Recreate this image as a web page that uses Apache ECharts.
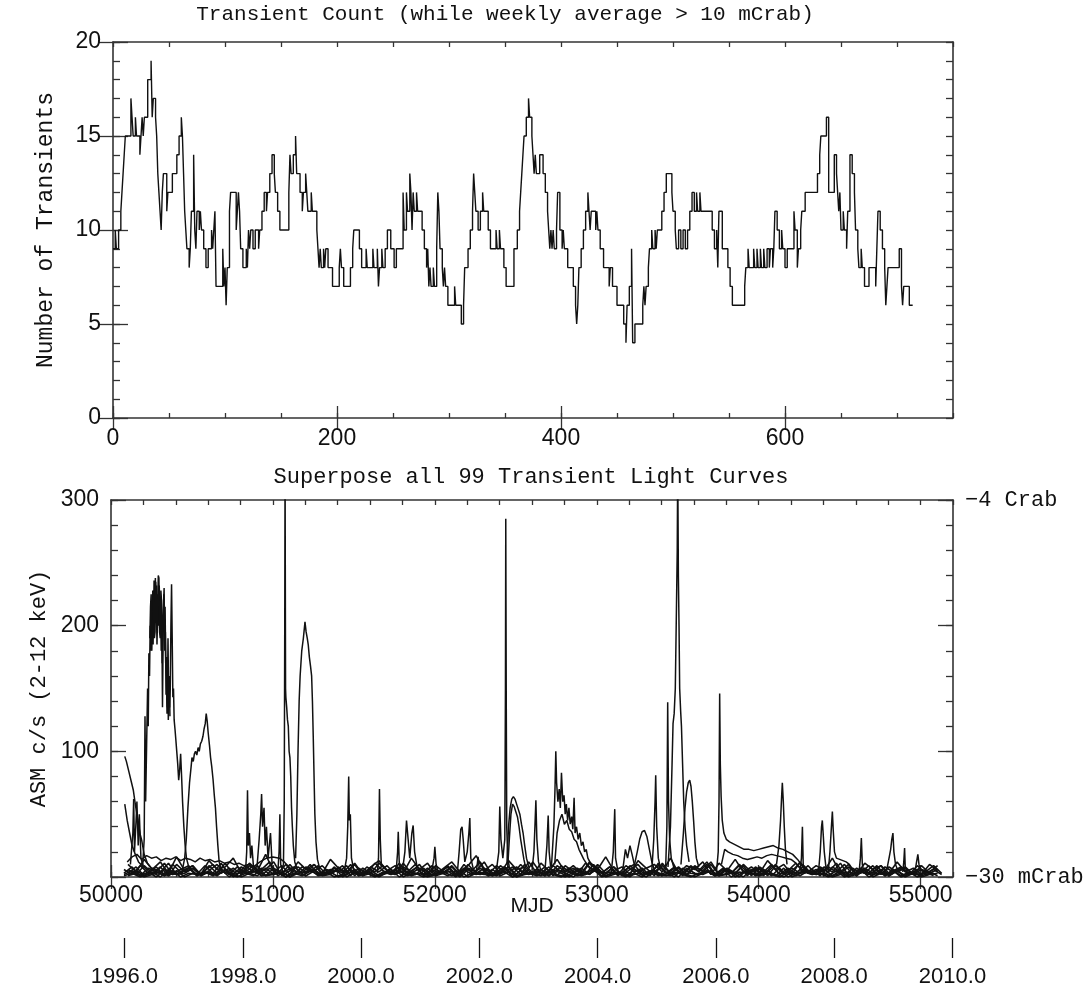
<!DOCTYPE html>
<html>
<head>
<meta charset="utf-8">
<script src="https://cdn.jsdelivr.net/npm/echarts@6/dist/echarts.min.js"></script>
<style>
html,body{margin:0;padding:0;background:#fff;}
#chart{width:1091px;height:995px;}
</style>
</head>
<body>
<div id="chart"></div>
<script>
// ---------------- DATA ----------------
// Top panel: transient count, step change points [index, count]
const topCountSteps = [[0,9],[2,10],[3,9],[5,10],[7,11],[8,12],[9,13],[10,14],[11,15],[16,17],[17,16],[18,15],[20,16],[21,15],[24,14],[25,15],[26,16],[27,15],[28,16],[31,18],[34,19],[35,16],[36,17],[38,16],[39,15],[40,13],[41,12],[42,11],[43,10],[44,12],[45,13],[48,11],[49,12],[53,13],[57,14],[59,15],[61,16],[62,15],[63,13],[64,11],[65,10],[66,9],[68,8],[69,9],[70,11],[72,14],[73,10],[74,9],[75,11],[77,10],[78,11],[79,10],[81,9],[83,8],[85,9],[88,10],[89,9],[90,10],[91,11],[92,7],[98,9],[99,7],[100,8],[101,6],[102,8],[104,11],[105,12],[110,10],[111,11],[112,12],[113,11],[114,9],[116,8],[119,9],[120,8],[121,10],[122,9],[123,10],[125,9],[127,10],[130,9],[131,10],[133,11],[135,12],[137,11],[138,12],[140,13],[142,14],[144,13],[145,12],[147,11],[149,10],[157,12],[158,14],[159,13],[161,14],[163,15],[164,13],[167,12],[169,11],[170,12],[172,13],[173,12],[174,11],[177,12],[178,11],[182,10],[183,9],[184,8],[185,9],[186,8],[188,9],[189,8],[190,9],[192,8],[196,7],[202,8],[203,9],[204,8],[206,7],[212,8],[214,9],[215,10],[220,9],[222,8],[226,9],[227,8],[232,9],[233,8],[236,9],[237,7],[238,8],[240,9],[241,8],[243,9],[245,10],[248,9],[251,8],[253,9],[259,12],[260,10],[262,12],[263,11],[265,13],[266,12],[267,10],[268,12],[269,11],[271,12],[272,11],[276,10],[278,9],[280,8],[281,9],[282,7],[283,8],[284,7],[286,8],[287,7],[289,9],[290,12],[291,11],[292,9],[294,8],[295,7],[296,8],[297,7],[299,6],[305,7],[306,6],[311,5],[313,6],[314,8],[317,9],[319,10],[321,11],[322,13],[323,12],[324,11],[326,10],[328,11],[330,12],[331,11],[335,10],[337,9],[342,10],[343,9],[345,10],[346,9],[349,8],[351,7],[358,9],[361,10],[363,11],[364,12],[365,13],[366,14],[367,15],[369,16],[371,17],[372,16],[374,15],[375,14],[376,13],[377,14],[378,13],[381,14],[384,13],[386,12],[388,11],[389,10],[390,9],[391,10],[392,9],[393,10],[394,9],[396,10],[397,12],[399,10],[401,9],[402,10],[403,9],[406,8],[411,7],[413,6],[414,5],[415,6],[416,8],[418,9],[420,10],[422,11],[424,12],[425,11],[426,10],[427,11],[431,10],[432,11],[433,10],[435,9],[438,8],[443,7],[444,8],[446,7],[450,6],[456,5],[458,4],[459,6],[461,7],[463,9],[464,4],[466,5],[473,6],[474,7],[475,6],[476,7],[478,8],[479,9],[481,10],[482,9],[484,10],[485,9],[486,10],[490,11],[492,12],[494,13],[499,12],[500,11],[502,10],[503,9],[505,10],[507,9],[509,10],[511,9],[513,10],[515,11],[517,12],[519,11],[521,12],[522,11],[524,12],[525,11],[535,10],[537,9],[539,10],[540,8],[541,11],[544,9],[549,8],[551,7],[553,6],[564,7],[565,8],[567,9],[568,8],[572,9],[573,8],[575,9],[576,8],[578,9],[579,8],[581,9],[582,8],[584,9],[586,8],[587,9],[589,8],[590,9],[591,11],[593,10],[595,9],[597,10],[598,9],[600,8],[602,9],[608,11],[609,10],[611,8],[612,9],[614,10],[615,11],[618,12],[629,13],[631,14],[632,15],[637,16],[639,12],[644,14],[646,13],[647,12],[648,11],[649,12],[650,10],[652,11],[653,10],[655,9],[656,11],[658,14],[660,13],[662,12],[663,10],[665,9],[666,8],[668,9],[669,8],[671,7],[675,8],[681,7],[682,9],[683,11],[685,10],[687,9],[689,8],[690,6],[691,7],[692,8],[702,9],[704,7],[705,6],[706,7],[711,6],[714,6]];

// Top panel tick labels
const topXTicks = [0, 200, 400, 600];
const topYTicks = [0, 5, 10, 15, 20];

// Bottom panel: light curves [MJD, ASM c/s]
const lcEarlyDecayA = [[50085,96],[50095,92],[50110,84],[50125,76],[50138,69],[50150,58],[50165,46],[50180,34],[50190,29],[50205,18],[50225,11],[50250,7],[50280,5]];
const lcEarlyDecayB = [[50085,58],[50100,45],[50115,35],[50130,25],[50150,18],[50170,12],[50200,8],[50230,5]];
const lcEarlySpikes = [[50120,10],[50135,35],[50140,62],[50145,20],[50155,45],[50160,60],[50168,25],[50175,50],[50185,15],[50200,8]];
const lcOutburst1996 = [[50195,8],[50205,30],[50210,128],[50214,60],[50220,105],[50226,150],[50230,120],[50234,178],[50238,160],[50242,200],[50246,180],[50250,210],[50254,195],[50258,228],[50262,200],[50266,236],[50270,210],[50274,238],[50278,205],[50282,232],[50286,198],[50290,225],[50294,200],[50298,232],[50302,205],[50306,218],[50310,180],[50314,205],[50318,135],[50322,190],[50326,225],[50330,195],[50334,215],[50338,170],[50342,160],[50346,130],[50350,155],[50354,125],[50358,150],[50362,135],[50366,150],[50370,200],[50374,233],[50378,190],[50382,143],[50386,150],[50390,125],[50395,118],[50400,110],[50406,100],[50412,90],[50418,77],[50424,85],[50430,98],[50436,80],[50442,60],[50450,40],[50458,25],[50466,15],[50480,8]];
const lcOutburst1996b = [[50240,190],[50244,215],[50248,225],[50252,180],[50256,205],[50260,185],[50264,228],[50268,190],[50272,195],[50276,235],[50280,222],[50284,185],[50288,210],[50292,240],[50296,238],[50300,195],[50304,190],[50308,228],[50312,220],[50316,170],[50320,200],[50324,215],[50328,230],[50332,180],[50336,195],[50340,145],[50344,175],[50348,135],[50352,190],[50356,140],[50360,160],[50364,128]];
const lcHump1997 = [[50440,5],[50455,15],[50465,30],[50475,55],[50485,75],[50495,88],[50500,95],[50508,92],[50515,98],[50522,100],[50530,97],[50538,103],[50545,100],[50552,106],[50560,108],[50568,112],[50575,118],[50582,122],[50588,130],[50594,124],[50600,115],[50608,105],[50615,95],[50622,88],[50630,78],[50638,65],[50645,55],[50652,40],[50660,25],[50668,12],[50680,6]];
const lcShelf = [[50100,12],[50130,16],[50160,18],[50190,14],[50220,17],[50250,15],[50280,16],[50310,13],[50340,15],[50370,14],[50400,16],[50430,13],[50460,15],[50490,14],[50520,12],[50550,15],[50580,13],[50610,14],[50640,12],[50670,13],[50700,11],[50730,12],[50760,10],[50790,11],[50820,9],[50850,10],[50880,8]];
const lcArc1998 = [[50880,8],[50920,12],[50960,15],[51000,16],[51040,15],[51070,12],[51100,8],[51130,4]];
const lcSpikes1998a = [[50830,3],[50838,20],[50843,69],[50848,25],[50855,35],[50862,15],[50870,25],[50880,8]];
const lcSpikes1998b = [[50900,5],[50915,30],[50925,50],[50930,66],[50936,40],[50945,55],[50952,25],[50960,40],[50970,15],[50985,35],[50995,10]];
const lcSpikes1998c = [[51030,3],[51038,20],[51043,50],[51048,10],[51060,4]];
const lcFlare1998 = [[51055,5],[51065,10],[51070,60],[51073,200],[51075,330],[51078,150],[51080,143],[51085,135],[51090,125],[51095,120],[51100,100],[51105,95],[51110,80],[51115,55],[51120,40],[51126,25],[51135,12],[51150,6]];
const lcOutburst1999 = [[51140,15],[51148,50],[51155,100],[51162,140],[51168,160],[51178,180],[51188,190],[51198,203],[51205,195],[51212,190],[51218,185],[51225,175],[51232,168],[51239,160],[51244,140],[51249,112],[51254,80],[51259,50],[51266,28],[51275,14],[51290,6]];
const lcSpike51468 = [[51440,4],[51455,15],[51462,40],[51468,80],[51472,45],[51478,50],[51485,15],[51500,5]];
const lcSpike51658 = [[51645,3],[51652,15],[51658,70],[51663,30],[51670,8]];
const lcSpike51774 = [[51760,3],[51770,20],[51774,36],[51780,12],[51790,4]];
const lcPair51850 = [[51800,5],[51815,20],[51825,45],[51835,30],[51845,15],[51858,35],[51866,41],[51875,20],[51890,8]];
const lcSpike52000 = [[51980,4],[51995,15],[52000,24],[52008,10],[52020,4]];
const lcPair52190 = [[52140,5],[52150,20],[52160,38],[52168,40],[52175,30],[52185,12],[52200,20],[52210,35],[52216,47],[52222,15],[52240,5]];
const lcSpike52267 = [[52255,3],[52262,10],[52267,16],[52275,6]];
const lcFlare2002 = [[52380,5],[52395,20],[52401,56],[52408,30],[52420,15],[52432,30],[52436,150],[52438,285],[52441,140],[52444,40],[52450,15],[52460,8]];
const lcHump2002 = [[52445,10],[52455,40],[52465,55],[52475,62],[52485,64],[52495,62],[52505,58],[52515,54],[52525,50],[52535,42],[52545,35],[52555,25],[52566,15],[52580,8]];
const lcHump2002b = [[52450,8],[52460,30],[52470,50],[52480,58],[52490,56],[52500,52],[52510,48],[52520,40],[52530,30],[52540,22],[52550,14],[52560,8]];
const lcSpike52624 = [[52600,5],[52612,20],[52618,40],[52624,61],[52630,30],[52640,12],[52655,5]];
const lcSpike52700 = [[52680,5],[52692,25],[52700,49],[52706,20],[52715,8]];
const lcOutburst2003 = [[52720,8],[52735,40],[52742,70],[52747,100],[52752,75],[52760,60],[52768,70],[52775,55],[52782,83],[52790,60],[52798,65],[52805,50],[52812,58],[52820,45],[52828,55],[52836,42],[52845,48],[52852,38],[52860,63],[52866,35],[52875,40],[52885,30],[52895,35],[52905,25],[52915,28],[52925,20],[52935,22],[52945,15],[52957,12],[52970,8]];
const lcOutburst2003b = [[52740,10],[52755,35],[52770,45],[52785,50],[52800,42],[52815,45],[52830,38],[52845,36],[52860,30],[52875,28],[52890,22],[52905,18],[52920,14],[52940,10],[52960,6]];
const lcSpike53111 = [[53090,4],[53102,20],[53111,54],[53116,15],[53130,5]];
const lcBumps53200 = [[53160,5],[53177,22],[53190,15],[53205,25],[53218,18],[53235,8]];
const lcArc53290 = [[53230,8],[53250,20],[53265,30],[53280,36],[53295,37],[53310,32],[53325,22],[53340,12],[53355,6]];
const lcSpike53364 = [[53340,5],[53352,30],[53360,60],[53364,81],[53370,40],[53380,15],[53395,6]];
const lcSpike53438 = [[53425,5],[53433,40],[53438,139],[53443,60],[53450,30],[53460,15],[53475,8]];
const lcFlare2005 = [[53440,8],[53455,40],[53465,90],[53471,122],[53478,130],[53485,150],[53492,213],[53497,260],[53500,330],[53504,240],[53508,200],[53512,150],[53518,132],[53523,120],[53530,90],[53537,60],[53545,40],[53555,25],[53570,12]];
const lcHump53574 = [[53520,10],[53535,35],[53545,55],[53555,68],[53565,75],[53574,77],[53582,72],[53590,60],[53598,45],[53606,28],[53615,15],[53630,8]];
const lcDecay2006 = [[53740,5],[53750,20],[53755,60],[53759,146],[53763,90],[53768,64],[53775,45],[53785,35],[53800,30],[53820,28],[53850,26],[53880,24],[53910,22],[53940,22],[53970,21],[54000,22],[54030,23],[54060,24],[54090,25],[54120,23],[54150,22],[54180,20],[54210,18],[54240,14],[54270,9],[54300,5]];
const lcDecay2006b = [[53770,10],[53790,22],[53810,20],[53840,18],[53870,17],[53900,15],[53930,14],[53960,15],[53990,16],[54020,15],[54050,17],[54080,18],[54110,17],[54140,16],[54170,15],[54200,14],[54230,11],[54260,7],[54290,4]];
const lcSpike54146 = [[54110,10],[54125,25],[54135,45],[54142,65],[54146,75],[54152,60],[54158,40],[54165,22],[54175,10]];
const lcSpike54270 = [[54255,4],[54264,15],[54270,40],[54275,10],[54285,4]];
const lcSpike54393 = [[54370,5],[54380,20],[54388,40],[54393,45],[54398,35],[54405,20],[54415,8]];
const lcSpike54455 = [[54430,5],[54440,20],[54450,42],[54455,52],[54460,38],[54468,20],[54480,15],[54500,14],[54520,13],[54540,12],[54560,10],[54580,6]];
const lcSpike54634 = [[54620,4],[54628,15],[54634,31],[54640,10],[54650,4]];
const lcSpike54829 = [[54790,5],[54805,15],[54815,22],[54822,30],[54829,35],[54835,20],[54845,10],[54860,5]];
const lcSpike54901 = [[54890,4],[54896,12],[54901,23],[54905,8],[54915,4]];
const lcSpike54983 = [[54965,4],[54975,12],[54983,18],[54990,10],[55000,5]];

// Low-level baseline of the many faint transients
const baseMjdA = [50080,50130,50180,50230,50280,50330,50380,50430,50480,50530,50580,50630,50680,50730,50780,50830,50880,50930,50980,51030,51080,51130,51180,51230,51280,51330,51380,51430,51480,51530,51580,51630,51680,51730,51780,51830,51880,51930,51980,52030,52080,52130,52180,52230,52280,52330,52380,52430,52480,52530,52580,52630,52680,52730,52780,52830,52880,52930,52980,53030,53080,53130,53180,53230,53280,53330,53380,53430,53480,53530,53580,53630,53680,53730,53780,53830,53880,53930,53980,54030,54080,54130,54180,54230,54280,54330,54380,54430,54480,54530,54580,54630,54680,54730,54780,54830,54880,54930,54980,55030,55080,55130];
const baseMjdB = [50105,50155,50205,50255,50305,50355,50405,50455,50505,50555,50605,50655,50705,50755,50805,50855,50905,50955,51005,51055,51105,51155,51205,51255,51305,51355,51405,51455,51505,51555,51605,51655,51705,51755,51805,51855,51905,51955,52005,52055,52105,52155,52205,52255,52305,52355,52405,52455,52505,52555,52605,52655,52705,52755,52805,52855,52905,52955,53005,53055,53105,53155,53205,53255,53305,53355,53405,53455,53505,53555,53605,53655,53705,53755,53805,53855,53905,53955,54005,54055,54105,54155,54205,54255,54305,54355,54405,54455,54505,54555,54605,54655,54705,54755,54805,54855,54905,54955,55005,55055,55105];
const baseRate1 = [6,2,9,3,8,1,10,4,7,2,9,3,11,2,8,4,9,1,7,3,10,2,8,5,9,2,7,3,10,1,8,4,9,2,11,3,7,2,9,4,8,1,10,3,7,2,9,4,8,2,12,3,8,1,9,4,7,2,10,3,8,2,9,4,7,1,11,3,8,2,9,4,10,2,7,3,9,1,8,4,10,2,7,3,9,2,8,4,11,1,7,3,9,2,8,4,7,2,9,3,6,2];
const baseRate2 = [3,8,1,7,4,11,2,6,9,1,5,10,3,7,2,9,4,6,12,1,5,8,3,10,2,6,4,9,1,7,3,11,5,2,8,4,10,1,6,3,9,2,7,5,12,1,4,8,2,10,3,6,1,9,4,7,2,11,5,3,8,1,6,10,2,4,9,3,7,1,8,5,12,2,6,3,10,4,7,1,9,2,5,11,3,6,1,8,4,10,2,7,3,9,1,5,8,2,6,4,9,3];
const baseRate3 = [2,5,1,4,0,6,2,3,7,1,4,2,6,0,5,3,1,7,2,4,0,5,3,6,1,2,8,0,4,2,5,1,3,6,0,4,2,7,1,3,5,0,6,2,4,1,3,8,0,5,2,4,1,6,3,0,5,2,7,1,4,3,0,6,2,5,1,4,0,7,3,2,5,1,6,0,4,3,2,5,1,7,0,3,4,2,6,1,5,0,3,4,2,6,1,5,0,3,2,4,1];
const baseRate4 = [10,4,14,6,12,3,16,5,9,2,13,6,8,15,3,11,5,18,4,9,2,12,6,10,3,14,7,4,11,2,8,13,5,9,3,15,6,11,2,7,12,4,9,17,5,10,3,13,6,8,2,11,5,14,4,9,3,12,6,16,5,8,2,13,7,10,4,15,3,9,6,12,2,11,5,14,4,8,3,13,6,10,2,12,4,9,5,15,3,8,2,11,6,9,3,12,4,7,2,10,5,3];
const baseRate5 = [1,3,0,2,4,1,5,0,3,2,4,1,6,2,0,3,5,1,2,4,0,3,1,5,2,4,0,2,6,1,3,0,4,2,5,1,3,0,2,4,1,5,0,3,2,6,1,4,0,2,3,1,5,2,0,4,1,3,6,0,2,4,1,3,0,5,2,1,4,2,0,3,5,1,2,4,0,6,1,3,2,0,4,1,5,2,3,0,2,4,1,6,0,3,2,5,1,4,0,2,3];

// Bottom panel tick labels
const mjdTicks = [50000, 51000, 52000, 53000, 54000, 55000];
const rateTicks = [0, 100, 200, 300];
const rateLabelTicks = [100, 200, 300];
const crabMarks = [0, 300];
const crabLabels = ['\u221230 mCrab', '\u22124 Crab'];
// Calendar axis: MJD of Jan 1 of each labelled year
const yearTickMjd = [50083, 50814, 51544, 52275, 53005, 53736, 54466, 55197];
const yearTickLabels = ['1996.0', '1998.0', '2000.0', '2002.0', '2004.0', '2006.0', '2008.0', '2010.0'];

// ---------------- STYLE / LAYOUT ----------------
const SANS = "'Liberation Sans', Arial, Helvetica, sans-serif";
const MONO = "'Liberation Mono', 'Courier New', Courier, monospace";
const FRAME = '#333';
const INK = '#111';

function axisSet(dir, gridIndex, min, max, minorInterval, majors, labelVals, labelOpts, name, nameOpts) {
  const isX = dir === 'x';
  const posA = isX ? 'bottom' : 'left';
  const posB = isX ? 'top' : 'right';
  const majLen = isX ? 12 : 15;
  const minLen = isX ? 5 : 7;
  const base = {type: 'value', gridIndex, min, max, splitLine: {show: false}, silent: true};
  const tickStyle = {color: FRAME, width: 1.3};
  const main = Object.assign({}, base, {
    position: posA, interval: minorInterval,
    axisLine: {show: true, onZero: false, lineStyle: {color: FRAME, width: 1.6}},
    axisTick: {show: true, inside: true, length: minLen, lineStyle: tickStyle},
    axisLabel: Object.assign({show: true, customValues: labelVals, color: INK, fontFamily: SANS, fontSize: 23,
      formatter: v => String(v)}, labelOpts || {}),
  }, name ? Object.assign({name}, nameOpts) : {});
  const major = Object.assign({}, base, {
    position: posA, interval: minorInterval,
    axisLine: {show: false},
    axisTick: {show: true, inside: true, length: majLen, customValues: majors, lineStyle: tickStyle},
    axisLabel: {show: false}
  });
  const oppMinor = Object.assign({}, base, {
    position: posB, interval: minorInterval,
    axisLine: {show: true, onZero: false, lineStyle: {color: FRAME, width: 1.6}},
    axisTick: {show: true, inside: true, length: minLen, lineStyle: tickStyle},
    axisLabel: {show: false}
  });
  const oppMajor = Object.assign({}, base, {
    position: posB, interval: minorInterval,
    axisLine: {show: false},
    axisTick: {show: true, inside: true, length: majLen, customValues: majors, lineStyle: tickStyle},
    axisLabel: {show: false}
  });
  return [main, major, oppMinor, oppMajor];
}

const xAxes = [].concat(
  axisSet('x', 0, 0, 750, 50, topXTicks, topXTicks, {margin: 9}),
  axisSet('x', 1, 50000, 55200, 200, mjdTicks, mjdTicks, {margin: 7}, 'MJD',
    {nameLocation: 'middle', nameGap: 19, nameMoveOverlap: false,
     nameTextStyle: {fontFamily: SANS, fontSize: 21, color: INK}}),
  [{
    type: 'value', gridIndex: 2, min: 50000, max: 55200, position: 'bottom',
    splitLine: {show: false}, axisLine: {show: false},
    axisTick: {show: true, inside: true, length: 20, customValues: yearTickMjd, lineStyle: {color: INK, width: 1.3}},
    axisLabel: {show: true, customValues: yearTickMjd, margin: 8, color: INK, fontFamily: SANS, fontSize: 22,
      formatter: v => yearTickLabels[yearTickMjd.indexOf(v)] || ''}
  }]
);

const yAxes = [].concat(
  axisSet('y', 0, 0, 20, 1, topYTicks, topYTicks, {margin: 12}, 'Number of Transients',
    {nameLocation: 'middle', nameGap: 56, nameRotate: 90, nameTextStyle: {fontFamily: MONO, fontSize: 23, color: INK}}),
  axisSet('y', 1, 0, 300, 20, rateTicks, rateLabelTicks, {margin: 12}, 'ASM c/s (2-12 keV)',
    {nameLocation: 'middle', nameGap: 56, nameRotate: 90, nameTextStyle: {fontFamily: MONO, fontSize: 22, color: INK}}),
  [{
    type: 'value', gridIndex: 1, min: 0, max: 300, position: 'right',
    splitLine: {show: false}, axisLine: {show: false}, axisTick: {show: false},
    axisLabel: {show: true, customValues: crabMarks, margin: 12, color: INK, fontFamily: MONO, fontSize: 22,
      formatter: v => crabLabels[crabMarks.indexOf(v)]}
  },
  {type: 'value', gridIndex: 2, min: 0, max: 1, show: false}]
);

const lightCurves = [
  lcEarlyDecayA, lcEarlyDecayB, lcEarlySpikes, lcOutburst1996, lcOutburst1996b, lcHump1997, lcShelf, lcArc1998,
  lcSpikes1998a, lcSpikes1998b, lcSpikes1998c, lcFlare1998, lcOutburst1999, lcSpike51468, lcSpike51658,
  lcSpike51774, lcPair51850, lcSpike52000, lcPair52190, lcSpike52267, lcFlare2002, lcHump2002, lcHump2002b,
  lcSpike52624, lcSpike52700, lcOutburst2003, lcOutburst2003b, lcSpike53111, lcBumps53200, lcArc53290,
  lcSpike53364, lcSpike53438, lcFlare2005, lcHump53574, lcDecay2006, lcDecay2006b, lcSpike54146,
  lcSpike54270, lcSpike54393, lcSpike54455, lcSpike54634, lcSpike54829, lcSpike54901, lcSpike54983
];

function pair(xs, ys) {
  const n = Math.min(xs.length, ys.length);
  const out = [];
  for (let i = 0; i < n; i++) out.push([xs[i], ys[i]]);
  return out;
}
const baselines = [
  pair(baseMjdA, baseRate1), pair(baseMjdB, baseRate3), pair(baseMjdA, baseRate2),
  pair(baseMjdB, baseRate4), pair(baseMjdA, baseRate5), pair(baseMjdB, baseRate1),
  pair(baseMjdA, baseRate3), pair(baseMjdB, baseRate2), pair(baseMjdB, baseRate5)
];

const series = [];
series.push({
  type: 'line', xAxisIndex: 0, yAxisIndex: 0, step: 'end', data: topCountSteps,
  symbol: 'none', lineStyle: {color: INK, width: 1.4}, silent: true
});
baselines.forEach(d => series.push({
  type: 'line', xAxisIndex: 4, yAxisIndex: 4, data: d, symbol: 'none',
  lineStyle: {color: INK, width: 1.6}, clip: true, silent: true
}));
lightCurves.forEach(d => series.push({
  type: 'line', xAxisIndex: 4, yAxisIndex: 4, data: d, symbol: 'none',
  lineStyle: {color: INK, width: 1.5}, clip: true, silent: true
}));
series.push({type: 'line', xAxisIndex: 8, yAxisIndex: 9, data: [], symbol: 'none'});

const chart = echarts.init(document.getElementById('chart'), null, {renderer: 'canvas'});
chart.setOption({
  animation: false,
  backgroundColor: '#fff',
  grid: [
    {left: 113, top: 42, width: 840, height: 376},
    {left: 111, top: 500, width: 842, height: 377},
    {left: 111, top: 938, width: 842, height: 20}
  ],
  xAxis: xAxes,
  yAxis: yAxes,
  graphic: [
    {type: 'text', x: 505, y: 14, style: {text: 'Transient Count (while weekly average > 10 mCrab)', font: '21px ' + MONO, fill: INK, textAlign: 'center', textVerticalAlign: 'middle'}},
    {type: 'text', x: 531, y: 477, style: {text: 'Superpose all 99 Transient Light Curves', font: '22px ' + MONO, fill: INK, textAlign: 'center', textVerticalAlign: 'middle'}}
  ],
  series
});
</script>
</body>
</html>
